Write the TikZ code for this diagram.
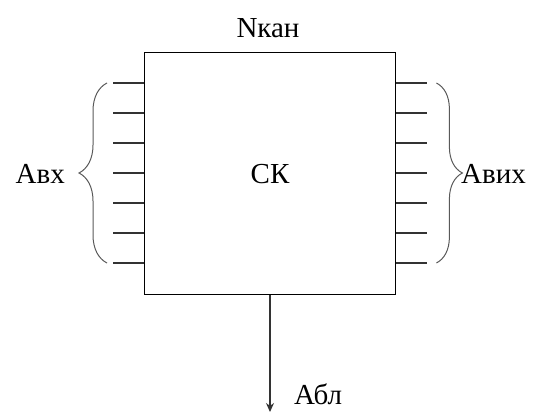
\documentclass[tikz,border=0pt]{standalone}
\usepackage{fontspec}
\setmainfont{Liberation Serif}
\usetikzlibrary{decorations.pathreplacing,arrows.meta,calc}
\begin{document}
\begin{tikzpicture}[x=1pt,y=-1pt,
  lbl/.style={font=\fontsize{29}{31}\selectfont, inner sep=0pt},
  stub/.style={line width=1.3pt, draw=black!80},
  brc/.style={draw=black!65, line width=1pt, decorate, decoration={brace, amplitude=#1}}]
\useasboundingbox (0,0) rectangle (538,414);
\node[draw, line width=1.4pt, minimum width=251pt, minimum height=242pt, inner sep=0pt, anchor=north west] (sk) at (144,52) {};
\node[lbl] (ck) at (270,174) {СК};
\node[lbl, anchor=south] (nkan) at (268,38) {Nкан};
\foreach \i in {0,...,6} {
  \coordinate (l\i) at ($(sk.north west)+(0,31+30*\i)$);
  \coordinate (le\i) at ($(l\i)+(-31,0)$);
  \draw[stub] (l\i) -- (le\i);
  \coordinate (r\i) at ($(sk.north east)+(0,31+30*\i)$);
  \coordinate (re\i) at ($(r\i)+(31,0)$);
  \draw[stub] (r\i) -- (re\i);
}
\coordinate (lb1) at ($(le6)+(-6,0)$);
\coordinate (lb2) at ($(le0)+(-6,0)$);
\draw[brc=28pt] (lb1) -- (lb2);
\coordinate (rb1) at ($(re0)+(9,0)$);
\coordinate (rb2) at ($(re6)+(9,0)$);
\draw[brc=26pt] (rb1) -- (rb2);
\node[lbl, anchor=east] (avx) at (65,174) {Авх};
\node[lbl, anchor=west] (avyx) at (461,174) {Авих};
\coordinate (abot) at (270,412);
\draw[line width=1.3pt, draw=black!80, -{Stealth[length=9pt,width=8pt]}] (sk.south -| abot) -- (abot);
\node[lbl, anchor=south west] (abl) at (294,405) {Абл};
\end{tikzpicture}
\end{document}
